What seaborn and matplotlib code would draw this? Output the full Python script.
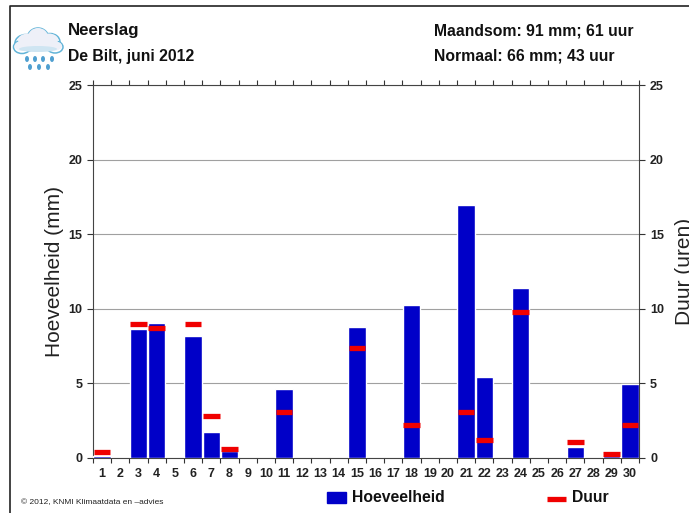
import numpy as np
import pandas as pd
import matplotlib
matplotlib.use("Agg")
import matplotlib.pyplot as plt
from matplotlib.patches import Ellipse, Rectangle
from matplotlib.lines import Line2D
import seaborn as sns

days = list(range(1, 31))
hoeveelheid = [0.15, 0, 8.65, 9.05, 0, 8.15, 1.75, 0.45, 0, 0, 4.65, 0, 0, 0, 8.75,
               0, 0, 10.25, 0, 0, 16.95, 5.45, 0, 11.4, 0, 0, 0.75, 0, 0.15, 4.95]
duur_days = [1, 3, 4, 6, 7, 8, 11, 15, 18, 21, 22, 24, 27, 29, 30]
duur = [0.4, 9.0, 8.7, 9.0, 2.8, 0.6, 3.1, 7.4, 2.2, 3.1, 1.2, 9.8, 1.1, 0.3, 2.2]
y_ticks = [0, 5, 10, 15, 20, 25]

BLUE = "#0000c8"
RED = "#f00000"
sns.set_theme(style="white")
plt.rcParams["font.family"] = ["Liberation Sans", "DejaVu Sans"]

W, H = 689, 513
fig = plt.figure(figsize=(W / 100, H / 100), dpi=100, facecolor="white")
ax = fig.add_axes([93 / W, 1 - 458 / H, (639 - 93) / W, (458 - 85) / H])

df = pd.DataFrame({"dag": days, "mm": hoeveelheid})
sns.barplot(data=df, x="dag", y="mm", native_scale=True, width=0.95,
            color=BLUE, saturation=1, ax=ax, zorder=3)
ax.hlines(duur, np.array(duur_days) - 0.46, np.array(duur_days) + 0.46,
          color=RED, lw=3.8, zorder=4)

ax.set_xlim(0.5, 30.5)
ax.set_ylim(0, 25)
ax.set_xlabel("")
ax.set_ylabel("Hoeveelheid (mm)", fontsize=15, color="#222222")
ax.yaxis.set_label_coords(-29 / (639 - 93), 0.5)
ax.set_yticks(y_ticks)
ax.set_yticklabels([str(v) for v in y_ticks], fontsize=9, fontweight="bold", color="#222222")
ax.grid(axis="y", color="#a0a0a0", lw=0.8, zorder=1)
ax.set_axisbelow(True)

ax.set_xticks(np.arange(0.5, 31), minor=False)
ax.set_xticklabels([])
ax.set_xticks(days, minor=True)
ax.set_xticklabels([str(d) for d in days], minor=True, fontsize=9, fontweight="bold", color="#222222")
ax.tick_params(axis="x", which="major", length=3.5, width=0.8, color="#333333", top=True, bottom=True, direction="out")
ax.tick_params(axis="x", which="minor", length=0, pad=7)
ax.tick_params(axis="y", length=4.5, width=0.8, color="#333333", left=True, pad=3)
for s in ax.spines.values():
    s.set_visible(True)
    s.set_color("#444444")
    s.set_linewidth(0.8)

ax2 = ax.twinx()
ax2.set_ylim(0, 25)
ax2.set_yticks(y_ticks)
ax2.set_yticklabels([str(v) for v in y_ticks], fontsize=9, fontweight="bold", color="#222222")
ax2.tick_params(axis="y", length=4.5, width=0.8, color="#333333", right=True, pad=3.5)
ax2.grid(False)
for s in ax2.spines.values():
    s.set_visible(False)

def T(x, y, s, **k):
    k.setdefault("va", "center")
    fig.text(x / W, 1 - y / H, s, **k)

T(685, 271, "Duur (uren)", fontsize=15, color="#222222", rotation=90, ha="center")
T(68, 31, "Neerslag", fontsize=12.2, fontweight="bold", color="#111111")
T(68, 57, "De Bilt, juni 2012", fontsize=11.3, fontweight="bold", color="#111111")
T(434, 31, "Maandsom: 91 mm; 61 uur", fontsize=11.3, fontweight="bold", color="#111111")
T(434, 56, "Normaal: 66 mm; 43 uur", fontsize=11.3, fontweight="bold", color="#111111")
T(21, 503, "\u00a9 2012, KNMI Klimaatdata en \u2013advies", fontsize=6, color="#222222")

# legend
fig.add_artist(Rectangle((327 / W, 1 - 503 / H), 19 / W, 11 / H, transform=fig.transFigure, color=BLUE))
T(352, 497, "Hoeveelheid", fontsize=11.3, fontweight="bold", color="#111111")
fig.add_artist(Line2D([547 / W, 566 / W], [1 - 499 / H] * 2, color=RED, lw=3.8, solid_capstyle="butt", transform=fig.transFigure))
T(572, 497, "Duur", fontsize=11.3, fontweight="bold", color="#111111")

# page frame
fig.add_artist(Line2D([10 / W, 10 / W, 1], [0, 1 - 5.5 / H, 1 - 5.5 / H], color="#222222", lw=1.2, transform=fig.transFigure))

# rain-cloud icon
def ell(cx, cy, w, h, fc, ec="none", lw=0):
    fig.add_artist(Ellipse((cx / W, 1 - cy / H), w / W, h / H, transform=fig.transFigure, fc=fc, ec=ec, lw=lw))
CE = "#62b4d8"
for cx, cy, w, h in [(26, 43, 22, 17), (38, 39, 22, 22), (50, 42, 20, 17), (22, 47, 17, 13), (55, 47, 16, 12)]:
    ell(cx, cy, w, h, "white", CE, 1.1)
for cx, cy, w, h in [(28, 40, 20, 13), (38, 37, 20, 18), (49, 40, 18, 13), (22, 46, 15, 10), (55, 46, 14, 9), (38, 46, 34, 12)]:
    ell(cx, cy, w, h, "#eef0f8")
ell(38, 49, 38, 6, "#cfe5f2")
for x, y in [(27, 59), (35, 59), (43, 59), (52, 59), (30, 67), (39, 67), (48, 67)]:
    ell(x, y, 4, 6, "#4f9fd0")

fig.savefig("out.png", dpi=100)
